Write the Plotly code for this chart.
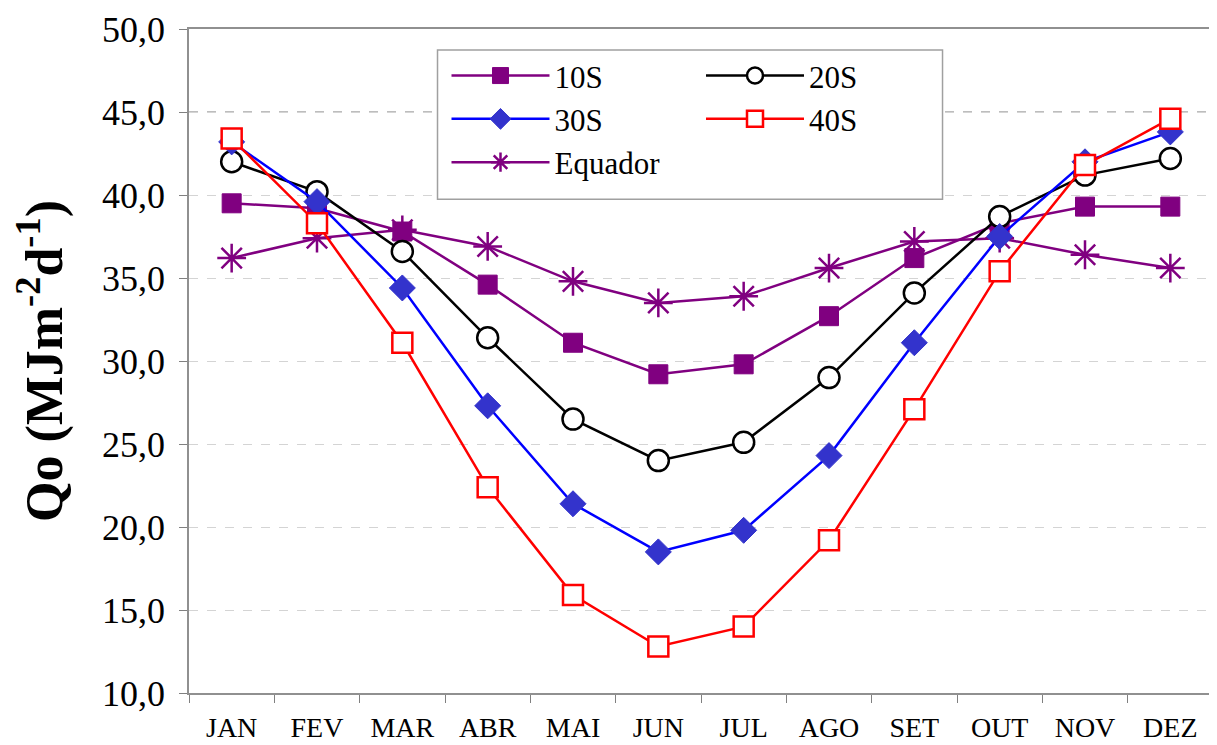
import plotly.graph_objects as go

months = ["JAN", "FEV", "MAR", "ABR", "MAI", "JUN", "JUL", "AGO", "SET", "OUT", "NOV", "DEZ"]
s10 = [39.5, 39.2, 37.8, 34.6, 31.1, 29.2, 29.8, 32.7, 36.2, 38.3, 39.3, 39.3]
s20 = [42.0, 40.2, 36.6, 31.4, 26.5, 24.0, 25.1, 29.0, 34.1, 38.7, 41.2, 42.2]
s30 = [43.2, 39.6, 34.4, 27.3, 21.4, 18.5, 19.8, 24.3, 31.1, 37.5, 42.0, 43.8]
s40 = [43.4, 38.3, 31.1, 22.4, 15.9, 12.8, 14.0, 19.2, 27.1, 35.4, 41.8, 44.6]
equador = [36.2, 37.4, 37.9, 36.9, 34.8, 33.5, 33.9, 35.6, 37.2, 37.4, 36.4, 35.6]

PURPLE = "#800080"
FONT = "Liberation Serif, Times New Roman, Tinos, DejaVu Serif, serif"

fig = go.Figure()
fig.add_trace(go.Scatter(x=months, y=equador, name="Equador", mode="lines+markers",
                         line=dict(color=PURPLE, width=2.5),
                         marker=dict(symbol="asterisk-open", size=24, line=dict(color=PURPLE, width=2.5)),
                         legend="legend", legendrank=3))
fig.add_trace(go.Scatter(x=months, y=s10, name="10S", mode="lines+markers",
                         line=dict(color=PURPLE, width=2.5),
                         marker=dict(symbol="square", size=19, color=PURPLE, line=dict(color=PURPLE, width=1)),
                         legend="legend", legendrank=1))
fig.add_trace(go.Scatter(x=months, y=s20, name="20S", mode="lines+markers",
                         line=dict(color="black", width=2.5),
                         marker=dict(symbol="circle", size=21, color="white", line=dict(color="black", width=2.5)),
                         legend="legend2", legendrank=1))
fig.add_trace(go.Scatter(x=months, y=s30, name="30S", mode="lines+markers",
                         line=dict(color="#0000FF", width=2.5),
                         marker=dict(symbol="diamond", size=20, color="#3333CC", line=dict(color="#3333CC", width=1)),
                         legend="legend", legendrank=2))
fig.add_trace(go.Scatter(x=months, y=s40, name="40S", mode="lines+markers",
                         line=dict(color="#FF0000", width=2.5),
                         marker=dict(symbol="square", size=20, color="white", line=dict(color="#FF0000", width=2.5)),
                         legend="legend2", legendrank=2))

# page body has an 8px margin; target plot area in screen pixels: x 189..1215, y 27..694
OFF = 8
W, H = 1209, 737
L, R, T, B = 189 - OFF, 2, 27 - OFF, 51
pw, ph = W - L - R, H - T - B

def px(xs):
    return (xs - OFF - L) / pw

def py(ys):
    return (H - B - (ys - OFF)) / ph

legend_common = dict(font=dict(family=FONT, size=31, color="black"), bgcolor="rgba(0,0,0,0)",
                     borderwidth=0, itemwidth=98, tracegroupgap=0, xanchor="left", yanchor="top",
                     traceorder="normal")

fig.update_layout(
    width=W, height=H,
    margin=dict(l=L, r=R, t=T, b=B),
    paper_bgcolor="white", plot_bgcolor="white",
    separators=",.",
    font=dict(family=FONT, color="black"),
    legend=dict(x=px(447), y=py(47), **legend_common),
    legend2=dict(x=px(702), y=py(47), **legend_common),
    xaxis=dict(type="category", tickson="boundaries", ticks="outside", ticklen=8, tickcolor="#808080",
               showline=True, linecolor="#909090", linewidth=1.5, mirror=True, showgrid=False,
               tickfont=dict(family=FONT, size=28), range=[-0.5, 11.5], ticklabelstandoff=9),
    yaxis=dict(range=[10, 50], dtick=5, tickformat=".1f", ticks="outside", ticklen=8, tickcolor="#808080",
               showline=True, linecolor="#909090", linewidth=1.5, mirror=True,
               showgrid=True, gridcolor="#d4d4d4", griddash="dash", gridwidth=1,
               tickfont=dict(family=FONT, size=36), ticklabelstandoff=7, ticklabeloverflow="allow",
               title=dict(text="<b>Qo (MJm<sup>-2</sup>d<sup>-1</sup>)</b>", font=dict(family=FONT, size=52), standoff=28)),
    shapes=[
        dict(type="line", xref="paper", yref="y", x0=0, x1=1, y0=45, y1=45,
             line=dict(color="#a8a8a8", width=1.5, dash="dash"), layer="below"),
        dict(type="rect", xref="paper", yref="paper", x0=px(438), x1=px(944), y0=py(198), y1=py(48),
             line=dict(color="#a0a0a0", width=1.5), fillcolor="white", layer="above"),
    ],
)

fig.write_html("out.html")
